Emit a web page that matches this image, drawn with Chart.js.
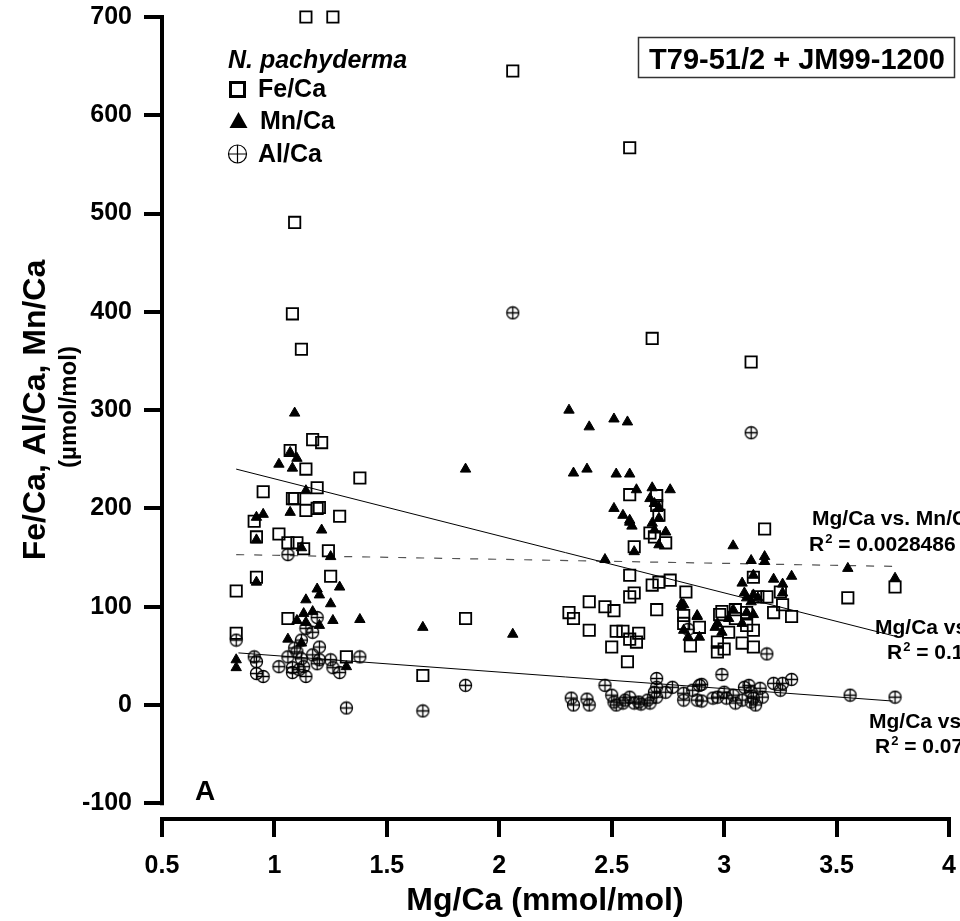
<!DOCTYPE html>
<html>
<head>
<meta charset="utf-8">
<script src="https://cdn.jsdelivr.net/npm/chart.js@4"></script>
<style>
  html, body { margin: 0; padding: 0; background: #fff; }
  canvas { display: block; }
</style>
</head>
<body>
<canvas id="chart" width="960" height="921"></canvas>
<script>
// tick labels
var xTicks = [0.5, 1, 1.5, 2, 2.5, 3, 3.5, 4];
var yTicks = [-100, 0, 100, 200, 300, 400, 500, 600, 700];

// Fe/Ca (squares): Mg/Ca and Fe/Ca
var feMg = [1.14, 1.26, 1.09, 2.06, 2.58, 1.08, 1.12, 2.68, 3.12, 1.17, 1.21, 1.07, 1.14, 1.38, 0.95, 1.19,
  1.08, 1.09, 1.19, 1.20, 1.14, 0.91, 1.29, 1.02, 1.06, 1.10, 1.13, 1.24, 0.92, 1.25, 0.83, 1.06, 0.83,
  1.32, 1.66, 1.85, 2.58, 2.68, 2.71, 2.76, 2.83, 2.40, 2.60, 2.58, 2.47, 2.51, 2.70, 2.82, 2.82, 2.89,
  2.31, 2.33, 2.40, 2.52, 2.55, 2.62, 2.58, 2.61, 2.50, 2.57, 2.85, 2.58, 2.70, 2.70, 2.71, 2.67, 2.69,
  2.74, 2.60, 3.18, 3.13, 3.25, 3.19, 3.15, 3.26, 2.97, 3.00, 3.08, 3.13, 3.22, 3.30, 2.97, 3.02, 3.13,
  3.05, 2.98, 2.99, 3.05, 3.10, 3.10, 3.55, 3.76, 0.92];
var feCa = [700, 700, 491, 645, 567, 398, 362, 373, 349, 270, 267, 259, 240, 231, 217, 221,
  210, 210, 200, 201, 198, 187, 192, 174, 165, 165, 159, 157, 130, 131, 116, 88, 73,
  49, 30, 88, 132, 122, 125, 127, 115, 105, 114, 110, 100, 96, 97, 91, 83, 79,
  94, 88, 76, 75, 75, 73, 67, 64, 59, 44, 60, 214, 213, 203, 193, 175, 171,
  165, 161, 179, 130, 115, 110, 110, 102, 54, 57, 63, 59, 94, 90, 64, 74, 76,
  88, 92, 95, 97, 94, 81, 109, 120, 171];

// Mn/Ca (triangles)
var mnMg = [1.09, 1.07, 1.10, 1.02, 1.08, 1.14, 1.07, 0.92, 0.95, 1.21, 0.92, 1.12, 1.25, 0.92, 1.19, 1.20,
  1.29, 1.14, 1.25, 1.13, 1.17, 1.10, 1.26, 1.38, 1.06, 1.12, 0.83, 0.83, 1.32, 1.20, 1.14, 1.66, 2.06,
  1.85, 2.31, 2.40, 2.51, 2.57, 2.33, 2.39, 2.52, 2.58, 2.61, 2.68, 2.76, 2.67, 2.71, 2.51, 2.55, 2.58,
  2.59, 2.68, 2.71, 2.69, 2.74, 2.71, 2.60, 2.47, 2.58, 2.69, 3.04, 3.12, 3.18, 3.18, 3.55, 3.76, 3.13,
  3.08, 3.22, 3.30, 3.26, 3.26, 3.09, 3.10, 3.13, 3.15, 3.12, 2.81, 2.88, 3.04, 3.10, 3.13, 2.82, 2.88,
  2.82, 2.89, 2.84, 2.97, 2.99, 3.08, 2.96, 2.81, 3.02];
var mnCa = [297, 257, 251, 245, 241, 218, 196, 191, 194, 178, 168, 160, 151, 125, 118, 112,
  120, 107, 103, 93, 95, 86, 86, 87, 67, 63, 46, 38, 39, 81, 84, 79, 72,
  240, 300, 283, 291, 288, 236, 240, 235, 235, 219, 221, 219, 210, 201, 200, 193, 188,
  182, 185, 190, 178, 176, 163, 156, 148, 186, 205, 162, 147, 151, 146, 139, 129, 132,
  124, 128, 131, 123, 114, 114, 109, 112, 109, 105, 103, 91, 97, 94, 92, 102, 90,
  76, 69, 69, 83, 74, 83, 79, 100, 88];

// Al/Ca (circled crosses)
var alMg = [0.83, 1.19, 1.14, 1.17, 1.12, 1.09, 1.20, 0.91, 0.92, 1.06, 1.12, 1.17, 1.20, 1.25, 1.02, 1.08,
  1.13, 1.19, 1.26, 1.08, 0.92, 0.95, 1.14, 1.29, 1.38, 1.32, 1.11, 1.10, 1.06, 1.66, 1.85, 2.06, 3.12,
  2.47, 2.32, 2.33, 2.39, 2.40, 2.50, 2.51, 2.55, 2.58, 2.60, 2.62, 2.67, 2.69, 2.70, 2.70, 2.70, 2.74,
  2.77, 2.82, 2.82, 2.86, 2.89, 2.88, 2.52, 2.56, 2.63, 2.84, 3.19, 2.99, 2.90, 3.22, 3.26, 3.30, 3.25,
  2.97, 3.00, 3.01, 3.05, 3.09, 3.11, 3.12, 3.13, 3.14, 3.16, 3.17, 3.08, 2.90, 2.95, 3.04, 3.56, 3.76,
  3.12, 2.66];
var alCa = [66, 89, 78, 74, 66, 58, 59, 49, 44, 49, 47, 51, 46, 46, 39, 38,
  39, 42, 38, 33, 32, 29, 29, 33, 49, -3, 36, 54, 153, -6, 20, 399, 277,
  20, 7, 0, 6, 0, 10, 3, 2, 8, 2, 3, 2, 13, 27, 18, 8, 13,
  18, 12, 5, 15, 20, 5, 0, 5, 1, 77, 52, 31, 21, 22, 22, 26, 15,
  8, 13, 7, 2, 18, 20, 13, 7, 0, 17, 8, 5, 4, 7, 10, 10, 8,
  3, 5];

// regression line end points
var feFitMg = [0.83, 3.76], feFitCa = [240, 70];
var mnFitMg = [0.83, 3.76], mnFitCa = [153, 141];
var alFitMg = [0.84, 3.75], alFitCa = [53, 4];

function pts(xs, ys) {
  return xs.map(function (x, i) { return { x: x, y: ys[i] }; });
}

var FONT = '"Liberation Sans", Arial, sans-serif';

// circled cross marker
var alMark = document.createElement('canvas');
alMark.width = 15; alMark.height = 15;
(function () {
  var c = alMark.getContext('2d');
  c.strokeStyle = '#000';
  c.lineWidth = 1.3;
  c.beginPath(); c.arc(7.5, 7.5, 6, 0, Math.PI * 2); c.stroke();
  c.beginPath();
  c.moveTo(1.5, 7.5); c.lineTo(13.5, 7.5);
  c.moveTo(7.5, 1.5); c.lineTo(7.5, 13.5);
  c.stroke();
})();

function drawSup(ctx, x, y, size, value) {
  ctx.font = 'bold ' + size + 'px ' + FONT;
  ctx.fillText('R', x, y);
  var w = ctx.measureText('R').width;
  ctx.font = 'bold ' + Math.round(size * 0.62) + 'px ' + FONT;
  ctx.fillText('2', x + w + 1, y - size * 0.38);
  var w2 = ctx.measureText('2').width;
  ctx.font = 'bold ' + size + 'px ' + FONT;
  ctx.fillText(' = ' + value, x + w + w2 + 1, y);
}

var decor = {
  id: 'decor',
  afterDraw: function (chart) {
    var ctx = chart.ctx;
    var ys = chart.scales.y;
    var left = chart.chartArea.left;
    ctx.save();
    ctx.fillStyle = '#000';
    ctx.strokeStyle = '#000';

    // y axis line from -100 to 700
    var yTop = ys.getPixelForValue(700), yBot = ys.getPixelForValue(-100);
    ctx.fillRect(left - 2, yTop - 2, 4, yBot - yTop + 4);

    // axis titles
    ctx.textAlign = 'center';
    ctx.textBaseline = 'alphabetic';
    ctx.save();
    ctx.translate(45, 410);
    ctx.rotate(-Math.PI / 2);
    ctx.font = 'bold 32px ' + FONT;
    ctx.fillText('Fe/Ca, Al/Ca, Mn/Ca', 0, 0);
    ctx.restore();
    ctx.save();
    ctx.translate(76, 407);
    ctx.rotate(-Math.PI / 2);
    ctx.font = 'bold 24px ' + FONT;
    ctx.fillText('(\u00b5mol/mol)', 0, 0);
    ctx.restore();
    ctx.font = 'bold 32px ' + FONT;
    ctx.fillText('Mg/Ca (mmol/mol)', 545, 910);

    // legend
    ctx.textAlign = 'left';
    ctx.font = 'italic bold 25px ' + FONT;
    ctx.fillText('N. pachyderma', 228, 68);
    ctx.font = 'bold 25px ' + FONT;
    ctx.lineWidth = 3;
    ctx.strokeRect(230.5, 82.5, 14, 14);
    ctx.fillText('Fe/Ca', 258, 97);
    ctx.beginPath();
    ctx.moveTo(238.5, 112); ctx.lineTo(247.5, 128); ctx.lineTo(229.5, 128); ctx.closePath();
    ctx.fill();
    ctx.fillText('Mn/Ca', 260, 129);
    ctx.lineWidth = 1.2;
    ctx.beginPath(); ctx.arc(237.5, 154, 9, 0, Math.PI * 2); ctx.stroke();
    ctx.beginPath();
    ctx.moveTo(228.5, 154); ctx.lineTo(246.5, 154);
    ctx.moveTo(237.5, 145); ctx.lineTo(237.5, 163);
    ctx.stroke();
    ctx.fillText('Al/Ca', 258, 162);

    // core label box
    ctx.lineWidth = 1.5;
    ctx.strokeStyle = '#333';
    ctx.strokeRect(638.5, 37.5, 316, 40);
    ctx.textAlign = 'center';
    ctx.font = 'bold 29px ' + FONT;
    ctx.fillText('T79-51/2 + JM99-1200', 797, 69);

    // regression annotations
    ctx.textAlign = 'left';
    ctx.font = 'bold 21px ' + FONT;
    ctx.fillText('Mg/Ca vs. Mn/Ca', 812, 525);
    drawSup(ctx, 809, 551, 21, '0.0028486');
    ctx.font = 'bold 21px ' + FONT;
    ctx.fillText('Mg/Ca vs. Fe/Ca', 875, 634);
    drawSup(ctx, 887, 659, 21, '0.1');
    ctx.font = 'bold 21px ' + FONT;
    ctx.fillText('Mg/Ca vs. Al/Ca', 869, 728);
    drawSup(ctx, 875, 753, 21, '0.07');

    // panel letter
    ctx.font = 'bold 28px ' + FONT;
    ctx.fillText('A', 195, 800);
    ctx.restore();
  }
};

var ctx = document.getElementById('chart');

var chart = new Chart(ctx, {
  type: 'scatter',
  data: {
    datasets: [
      {
        label: 'Al/Ca',
        data: pts(alMg, alCa),
        pointStyle: alMark,
        pointRadius: 7,
        clip: false
      },
      {
        label: 'Mn/Ca',
        data: pts(mnMg, mnCa),
        pointStyle: 'triangle',
        pointRadius: 6,
        backgroundColor: '#000',
        borderColor: '#000',
        borderWidth: 1,
        clip: false
      },
      {
        label: 'Fe/Ca',
        data: pts(feMg, feCa),
        pointStyle: 'rect',
        pointRadius: 8,
        backgroundColor: 'rgba(0,0,0,0)',
        borderColor: '#000',
        borderWidth: 1.8,
        clip: false
      },
      {
        type: 'line',
        label: 'Fe fit',
        data: pts(feFitMg, feFitCa),
        borderColor: '#000',
        borderWidth: 1,
        pointRadius: 0,
        showLine: true
      },
      {
        type: 'line',
        label: 'Mn fit',
        data: pts(mnFitMg, mnFitCa),
        borderColor: '#555',
        borderWidth: 1.2,
        borderDash: [8, 10],
        pointRadius: 0,
        showLine: true
      },
      {
        type: 'line',
        label: 'Al fit',
        data: pts(alFitMg, alFitCa),
        borderColor: '#000',
        borderWidth: 1,
        pointRadius: 0,
        showLine: true
      }
    ]
  },
  options: {
    responsive: false,
    devicePixelRatio: 1,
    animation: false,
    events: [],
    layout: { padding: { top: 17, right: 11, bottom: 0, left: 0 } },
    plugins: {
      legend: { display: false },
      tooltip: { enabled: false }
    },
    scales: {
      x: {
        type: 'linear',
        position: 'bottom',
        min: 0.5,
        max: 4,
        afterBuildTicks: function (s) { s.ticks = xTicks.map(function (v) { return { value: v }; }); },
        afterFit: function (s) { s.height = 102; s.paddingLeft = 0; s.paddingRight = 0; },
        grid: { drawOnChartArea: false, drawTicks: true, tickLength: 18, lineWidth: 4, color: '#000' },
        border: { display: true, color: '#000', width: 4 },
        ticks: {
          color: '#000',
          padding: 14,
          maxRotation: 0,
          font: { family: FONT, size: 25, weight: 'bold' },
          callback: function (v) { return String(v); }
        }
      },
      y: {
        type: 'linear',
        min: -116,
        max: 700,
        afterBuildTicks: function (s) { s.ticks = yTicks.map(function (v) { return { value: v }; }); },
        afterFit: function (s) { s.width = 162; s.paddingTop = 0; s.paddingBottom = 0; },
        grid: { drawOnChartArea: false, drawTicks: true, tickLength: 18, lineWidth: 4, color: '#000' },
        border: { display: false },
        ticks: {
          color: '#000',
          padding: 12,
          font: { family: FONT, size: 25, weight: 'bold' },
          callback: function (v) { return String(v); }
        }
      }
    }
  },
  plugins: [decor]
});
</script>
</body>
</html>
